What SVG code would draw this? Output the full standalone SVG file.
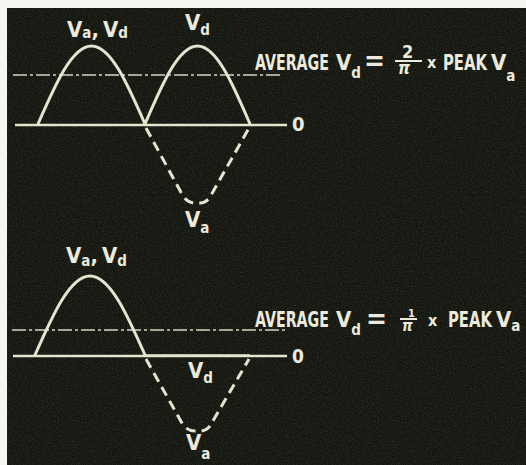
<svg xmlns="http://www.w3.org/2000/svg" width="526" height="465" viewBox="0 0 526 465">
<defs>
<filter id="grain" x="0" y="0" width="100%" height="100%">
<feTurbulence type="fractalNoise" baseFrequency="0.8" numOctaves="2" seed="3" result="n"/>
<feColorMatrix in="n" type="matrix" values="0 0 0 0 0.22  0 0 0 0 0.24  0 0 0 0 0.17  0 0 0 0.5 -0.2"/>
</filter>
<style>
.wave{fill:none;stroke:#e6e4cf;stroke-width:3;stroke-linecap:round;stroke-linejoin:round}
.dash{fill:none;stroke:#e6e4cf;stroke-width:3;stroke-dasharray:10 6;stroke-linecap:butt}
.axis{fill:none;stroke:#e6e4cf;stroke-width:2.5}
.avg{fill:none;stroke:#d8d6c2;stroke-width:1.6;stroke-dasharray:14 3 3 3}
.t{font-family:"DejaVu Sans Condensed","Liberation Sans",sans-serif;font-weight:bold;fill:#eceadb}
.big{font-size:22px}
.sub{font-size:15px}
.fr{stroke:#eceadb;stroke-width:2}
</style>
</defs>
<rect x="0" y="0" width="526" height="465" fill="#f4f4f0"/>
<rect x="7" y="8" width="519" height="457" fill="#13150f"/>
<rect x="7" y="8" width="519" height="457" filter="url(#grain)"/>

<g id="connectors">
<line class="axis" x1="15" y1="125" x2="287" y2="125"/>
<line class="avg" x1="13" y1="75" x2="283" y2="75"/>
<line class="axis" x1="13" y1="356" x2="287" y2="356"/>
<line class="axis" x1="145" y1="355.5" x2="250" y2="355.5" stroke-width="3"/>
<line class="avg" x1="12" y1="330" x2="285" y2="330"/>
</g>

<g id="top-waves">
<path class="wave" d="M38,124 C55.45,84.04 72.14,46 91.5,46 C110.86,46 127.55,84.04 145,124"/>
<path class="wave" d="M145,124 C162.12,84.04 178.5,46 197.5,46 C216.5,46 232.88,84.04 250,124"/>
<path class="dash" d="M146,128 L183,196 Q188,203 195,203 L200,203 Q206,203 210,197 L249,128"/>
</g>

<g id="bottom-waves">
<path class="wave" d="M35,355 C52.94,314.5 70.09,276 90,276 C109.91,276 127.06,314.5 145,355"/>
<path class="dash" d="M146,359 L183,425 Q188,431 195,431 L200,431 Q206,431 210,426 L249,359"/>
</g>

<g id="top-labels">
<text class="t big" x="67" y="37">V<tspan class="sub" dy="1">a</tspan><tspan dy="-1">,</tspan><tspan dx="4">V</tspan><tspan class="sub" dy="1">d</tspan></text>
<text class="t big" x="185" y="30">V<tspan class="sub" dy="5">d</tspan></text>
<text class="t big" x="185" y="227">V<tspan class="sub" dy="6">a</tspan></text>
<text class="t" x="292" y="131" font-size="20">0</text>
</g>

<g id="top-formula">
<text class="t big" x="255" y="70" textLength="74" lengthAdjust="spacingAndGlyphs">AVERAGE</text>
<text class="t big" x="336" y="70">V<tspan class="sub" dy="8">d</tspan></text>
<text class="t" x="364" y="70" font-size="28" textLength="21" lengthAdjust="spacingAndGlyphs">=</text>
<text class="t" x="402" y="58" font-size="18">2</text>
<line class="fr" x1="395" y1="61" x2="422" y2="61"/>
<text class="t" x="398" y="74" font-size="17" font-style="italic">π</text>
<text class="t" x="427" y="68" font-size="16">x</text>
<text class="t big" x="443" y="70" textLength="44" lengthAdjust="spacingAndGlyphs">PEAK</text>
<text class="t big" x="491" y="70">V<tspan class="sub" dy="11">a</tspan></text>
</g>

<g id="bottom-labels">
<text class="t big" x="66" y="263">V<tspan class="sub" dy="3">a</tspan><tspan dy="-3">,</tspan><tspan dx="4">V</tspan><tspan class="sub" dy="3">d</tspan></text>
<text class="t big" x="188" y="378">V<tspan class="sub" dy="5">d</tspan></text>
<text class="t big" x="186" y="450">V<tspan class="sub" dy="9">a</tspan></text>
<text class="t" x="292" y="363" font-size="19">0</text>
</g>

<g id="bottom-formula">
<text class="t big" x="255" y="327" textLength="74" lengthAdjust="spacingAndGlyphs">AVERAGE</text>
<text class="t big" x="336" y="327">V<tspan class="sub" dy="8">d</tspan></text>
<text class="t" x="366" y="328" font-size="28" textLength="21" lengthAdjust="spacingAndGlyphs">=</text>
<text class="t" x="408" y="317" font-size="11">1</text>
<line class="fr" x1="400" y1="319" x2="417" y2="319"/>
<text class="t" x="402" y="331" font-size="15" font-style="italic">π</text>
<text class="t" x="428" y="326" font-size="16">x</text>
<text class="t big" x="448" y="327" textLength="44" lengthAdjust="spacingAndGlyphs">PEAK</text>
<text class="t big" x="496" y="327">V<tspan class="sub" dy="4">a</tspan></text>
</g>
</svg>
